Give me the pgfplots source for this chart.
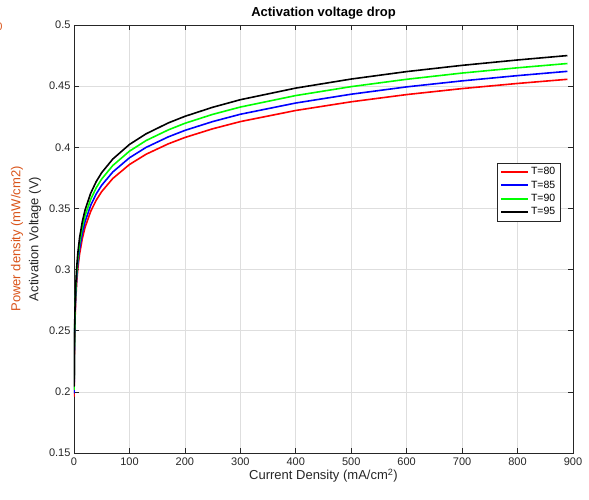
\documentclass[border=0pt]{standalone}
\usepackage{fontspec}
\setmainfont{Liberation Sans}
\usepackage{pgfplots}
\pgfplotsset{compat=1.18}
\definecolor{mlorange}{rgb}{0.85,0.325,0.098}
\definecolor{mlgray}{rgb}{0.15,0.15,0.15}

\pgfplotstableread{
i      r80     r85     r90     r95
0.26   0.1960  0.1988  0.2016  0.2043
0.5    0.2169  0.2200  0.2230  0.2261
1      0.2390  0.2424  0.2458  0.2492
2      0.2611  0.2648  0.2685  0.2722
3      0.2740  0.2779  0.2818  0.2856
5      0.2903  0.2944  0.2985  0.3026
7      0.3011  0.3054  0.3096  0.3139
10     0.3125  0.3169  0.3214  0.3258
15     0.3254  0.3300  0.3346  0.3392
20     0.3346  0.3393  0.3441  0.3488
30     0.3475  0.3524  0.3573  0.3623
40     0.3567  0.3618  0.3668  0.3719
50     0.3638  0.3690  0.3741  0.3793
70     0.3745  0.3798  0.3851  0.3904
100    0.3859  0.3914  0.3968  0.4023
130    0.3943  0.3999  0.4055  0.4110
170    0.4028  0.4085  0.4142  0.4199
200    0.4080  0.4138  0.4196  0.4253
250    0.4151  0.4210  0.4269  0.4327
300    0.4210  0.4270  0.4329  0.4389
400    0.4301  0.4362  0.4423  0.4484
500    0.4372  0.4434  0.4496  0.4558
600    0.4431  0.4494  0.4556  0.4619
700    0.4480  0.4543  0.4607  0.4670
800    0.4522  0.4586  0.4650  0.4714
890    0.4556  0.4621  0.4685  0.4750
}\actdata

\begin{document}
\begin{tikzpicture}
\useasboundingbox (-74pt,-47pt) rectangle (515pt,453pt);
\begin{axis}[at={(0,0)},anchor=south west,
  scale only axis,width=499pt,height=428pt,
  xmin=0,xmax=900,ymin=0.15,ymax=0.5,
  xtick={0,100,...,900},
  ytick={0.15,0.2,0.25,0.3,0.35,0.4,0.45,0.5},
  yticklabels={0.15,0.2,0.25,0.3,0.35,0.4,0.45,0.5},
  /pgf/number format/assume math mode=true,
  grid=major,
  major grid style={draw=black!13,line width=0.6pt},
  axis line style={draw=mlgray,line width=0.6pt},
  tick align=inside,
  major tick length=5pt,
  tick style={draw=mlgray,line width=0.6pt},
  tick label style={font=\fontsize{11}{13}\selectfont,text=mlgray},
  xticklabel style={yshift=-1pt},
  title={\bfseries Activation voltage drop},
  title style={font=\fontsize{13}{15}\selectfont,yshift=-4pt},
  xlabel={Current Density (mA/cm\textsuperscript{2})},
  xlabel style={font=\fontsize{13}{15}\selectfont,text=mlgray,yshift=3pt},
  ylabel={Activation Voltage (V)},
  ylabel style={font=\fontsize{13}{15}\selectfont,text=mlgray,at={(axis description cs:-0.078,0.5)},anchor=center},
  legend style={at={(0.974,0.678)},anchor=north east,
    font=\fontsize{10.5}{12}\selectfont,draw=mlgray,line width=0.5pt,
    row sep=0.5pt,inner sep=2.5pt},
  legend cell align=left,
  legend image code/.code={\draw[#1,line width=2pt] (0pt,0pt) -- (27pt,0pt);},
]
\addplot[red,line width=1.6pt] table[x=i,y=r80] {\actdata};
\addlegendentry{T=80}
\addplot[blue,line width=1.6pt] table[x=i,y=r85] {\actdata};
\addlegendentry{T=85}
\addplot[green,line width=1.6pt] table[x=i,y=r90] {\actdata};
\addlegendentry{T=90}
\addplot[black,line width=1.6pt] table[x=i,y=r95] {\actdata};
\addlegendentry{T=95}
\end{axis}
\node[rotate=90,text=mlorange,font=\fontsize{13}{15}\selectfont] at (-57pt,214pt) {Power density (mW/cm2)};
\node[text=mlorange,font=\fontsize{11}{13}\selectfont,anchor=east] at (-68pt,426pt) {0};
\end{tikzpicture}
\end{document}
